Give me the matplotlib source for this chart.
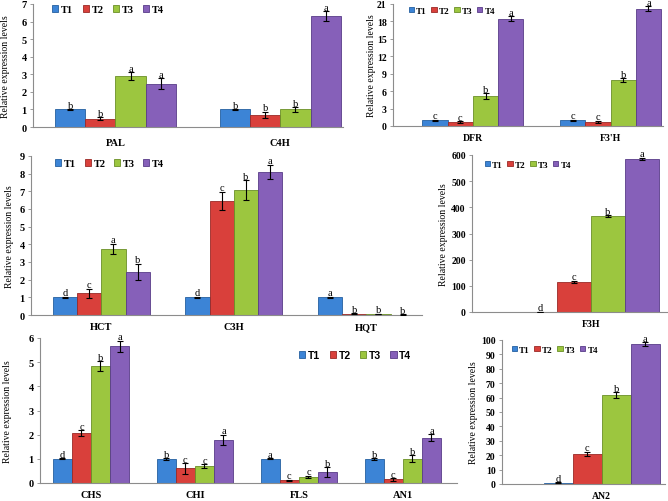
import matplotlib.pyplot as plt
import numpy as np

treatments = ['T1', 'T2', 'T3', 'T4']
colors = ['#3c84d6', '#d9403b', '#9cc63f', '#8660b9']
edges = ['#25609f', '#9a2926', '#6a8f27', '#583c88']

# panel A
genes_a = ['PAL', 'C4H']
mean_a = [[1.0, 1.0], [0.48, 0.69], [2.92, 1.0], [2.47, 6.30]]
err_a = [[0.02, 0.02], [0.08, 0.19], [0.22, 0.12], [0.30, 0.28]]
let_a = [['b', 'b'], ['b', 'b'], ['a', 'b'], ['a', 'a']]

# panel B
genes_b = ['DFR', "F3'H"]
mean_b = [[1.0, 1.0], [0.69, 0.75], [5.2, 7.85], [18.5, 20.2]]
err_b = [[0.08, 0.08], [0.15, 0.15], [0.5, 0.35], [0.35, 0.4]]
let_b = [['c', 'c'], ['c', 'c'], ['b', 'b'], ['a', 'a']]

# panel C
genes_c = ['HCT', 'C3H', 'HQT']
mean_c = [[1.0, 1.0, 1.0], [1.22, 6.45, 0.07], [3.73, 7.08, 0.06], [2.45, 8.11, 0.02]]
err_c = [[0.03, 0.03, 0.03], [0.27, 0.53, 0.03], [0.30, 0.57, 0.02], [0.45, 0.40, 0.01]]
let_c = [['d', 'd', 'a'], ['c', 'c', 'b'], ['a', 'b', 'b'], ['b', 'a', 'b']]

# panel D
genes_d = ['F3H']
mean_d = [[1.0], [116], [366], [586]]
err_d = [[0.2], [4], [4], [4]]
let_d = [['d'], ['c'], ['b'], ['a']]

# panel E
genes_e = ['CHS', 'CHI', 'FLS', 'AN1']
mean_e = [[1.0, 1.0, 1.0, 1.0], [2.08, 0.61, 0.12, 0.15],
          [4.83, 0.69, 0.25, 1.0], [5.66, 1.78, 0.45, 1.88]]
err_e = [[0.02, 0.03, 0.02, 0.03], [0.12, 0.22, 0.02, 0.06],
         [0.20, 0.08, 0.05, 0.15], [0.23, 0.22, 0.20, 0.13]]
let_e = [['d', 'b', 'a', 'b'], ['c', 'c', 'c', 'c'], ['b', 'c', 'c', 'b'], ['a', 'a', 'b', 'a']]

# panel F
genes_f = ['AN2']
mean_f = [[1.0], [21], [62], [97]]
err_f = [[0.3], [1.5], [2.0], [1.5]]
let_f = [['d'], ['c'], ['b'], ['a']]

W, H = 668, 502
fig = plt.figure(figsize=(W / 100, H / 100), dpi=100)
serif = 'Liberation Serif'


def panel(box, genes, means, errs, lets, ymax, step, xlim, leg_xy, ylab_x,
          leg_font=serif, leg_size=7.5, colsp=0.6, xpad=5, tsize=7.5):
    l, r, t, b = box
    ax = fig.add_axes([l / W, 1 - b / H, (r - l) / W, (b - t) / H])
    x = np.arange(len(genes))
    bw = 0.183
    for i in range(4):
        xs = x + (i - 1.5) * bw
        ax.bar(xs, means[i], bw, color=colors[i], edgecolor=edges[i],
               linewidth=0.6, label=treatments[i], zorder=2)
        ax.errorbar(xs, means[i], yerr=errs[i], fmt='none', ecolor='black',
                    elinewidth=0.8, capsize=2, capthick=0.8, zorder=3)
        for xx, m, e, s in zip(xs, means[i], errs[i], lets[i]):
            ax.annotate(s, (xx, m + e), xytext=(0, -0.5), textcoords='offset points',
                        ha='center', va='bottom', fontsize=7.5, family=serif,
                        annotation_clip=False)
    ax.set_ylim(0, ymax)
    ax.set_xlim(*xlim)
    ax.set_yticks(np.arange(0, ymax + step / 2, step))
    ax.set_xticks(x)
    ax.set_xticklabels(genes)
    for sp in ['top', 'right']:
        ax.spines[sp].set_visible(False)
    for sp in ['left', 'bottom']:
        ax.spines[sp].set_color('#8c8c8c')
        ax.spines[sp].set_linewidth(0.8)
    ax.tick_params(axis='x', length=0, pad=xpad)
    ax.tick_params(axis='y', length=2.5, width=0.6, color='#8c8c8c', pad=2)
    for lab in ax.get_xticklabels() + ax.get_yticklabels():
        lab.set_family(serif)
        lab.set_fontweight('bold')
        lab.set_fontsize(tsize)
    fig.text(ylab_x / W, 1 - (t + b) / 2 / H, 'Relative expression levels',
             rotation=90, ha='center', va='center', family=serif, fontsize=7)
    ax.legend(loc='upper left', bbox_to_anchor=(leg_xy[0] / W, 1 - leg_xy[1] / H),
              bbox_transform=fig.transFigure, ncol=4, frameon=False,
              handlelength=0.6, handleheight=0.6, handletextpad=0.25,
              columnspacing=colsp, borderpad=0,
              prop={'family': leg_font, 'weight': 'bold', 'size': leg_size})
    return ax


panel((33, 343, 5, 128), genes_a, mean_a, err_a, let_a, 7, 1,
      (-0.5, 1.38), (47, 1), 6, colsp=0.9, xpad=8)
panel((393, 663, 5, 127), genes_b, mean_b, err_b, let_b, 21, 3,
      (-0.58, 1.38), (404, 3), 372, leg_size=6.5, colsp=0.5, tsize=7)
panel((31, 422, 157, 316), genes_c, mean_c, err_c, let_c, 9, 1,
      (-0.53, 2.42), (50, 155), 10, colsp=0.8)
panel((472, 667, 156, 313), genes_d, mean_d, err_d, let_d, 600, 100,
      (-0.64, 0.41), (480, 157), 443, leg_size=6.5, colsp=0.5, tsize=7)
panel((40, 457, 339, 484), genes_e, mean_e, err_e, let_e, 6, 1,
      (-0.49, 3.52), (294, 346), 8, leg_font='Liberation Sans', colsp=0.9)
panel((502, 665, 341, 485), genes_f, mean_f, err_f, let_f, 100, 10,
      (-0.63, 0.40), (507, 342), 474, leg_size=6.5, colsp=0.5, tsize=7)

fig.savefig('out.png', dpi=100)
